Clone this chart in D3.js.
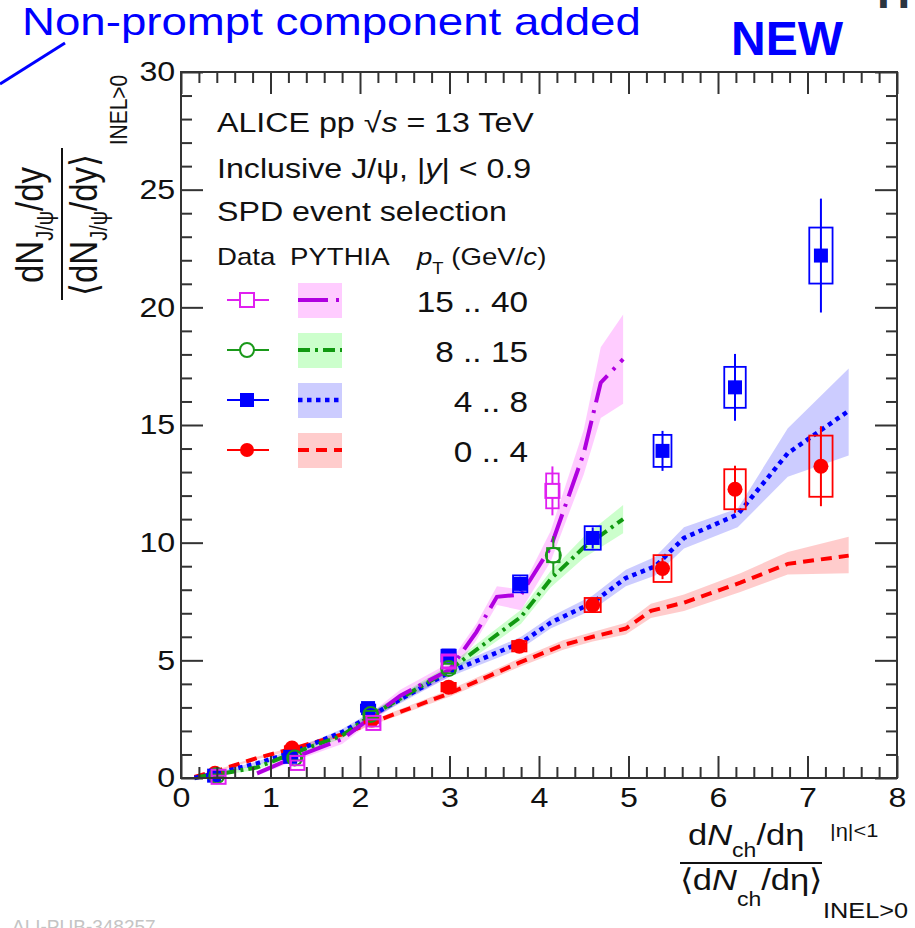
<!DOCTYPE html>
<html>
<head>
<meta charset="utf-8">
<script src="https://cdn.jsdelivr.net/npm/d3@7"></script>
<style>
  body { margin: 0; background: #fff; }
  svg { display: block; }
  text { font-family: "Liberation Sans", Arial, Helvetica, sans-serif; }
</style>
</head>
<body>
<div id="chart"></div>
<script>
// ---- measured data (x, y, stat error, syst error, half width of syst box) ----
const redX    = [0.38, 1.24, 2.13, 2.99, 3.78, 4.60, 5.38, 6.19, 7.15];
const redY    = [0.20, 1.27, 2.46, 3.86, 5.60, 7.35, 8.90, 12.27, 13.25];
const redStat = [0.05, 0.10, 0.15, 0.20, 0.20, 0.30, 0.45, 1.00, 1.70];
const redSys  = [0.05, 0.08, 0.12, 0.18, 0.22, 0.30, 0.57, 0.85, 1.30];
const redBoxW = [0.08, 0.08, 0.08, 0.08, 0.08, 0.09, 0.10, 0.12, 0.13];

const blueX    = [0.37, 1.22, 2.09, 2.99, 3.79, 4.60, 5.38, 6.19, 7.15];
const blueY    = [0.10, 0.90, 2.97, 5.20, 8.25, 10.20, 13.90, 16.60, 22.20];
const blueStat = [0.05, 0.10, 0.15, 0.25, 0.30, 0.45, 0.85, 1.42, 2.42];
const blueSys  = [0.05, 0.10, 0.15, 0.25, 0.36, 0.50, 0.68, 0.87, 1.19];
const blueBoxW = [0.08, 0.08, 0.08, 0.08, 0.08, 0.09, 0.10, 0.12, 0.13];

const greenX    = [0.40, 1.27, 2.12, 2.99, 4.16];
const greenY    = [0.10, 0.85, 2.70, 4.65, 9.47];
const greenStat = [0.05, 0.10, 0.15, 0.25, 0.80];
const greenSys  = [0.05, 0.10, 0.15, 0.20, 0.30];
const greenBoxW = [0.07, 0.07, 0.07, 0.07, 0.07];

const magX    = [0.42, 1.30, 2.15, 2.99, 4.15];
const magY    = [0.05, 0.64, 2.34, 4.95, 12.20];
const magStat = [0.05, 0.10, 0.15, 0.30, 1.04];
const magSys  = [0.05, 0.10, 0.15, 0.25, 0.74];
const magBoxW = [0.07, 0.07, 0.07, 0.07, 0.07];

// ---- PYTHIA curves (central value, band low, band high) ----
const pyRedX  = [0.15, 0.40, 0.85, 1.25, 1.80, 2.10, 3.00, 3.78, 4.27, 4.60, 4.97, 5.25, 5.62, 6.25, 6.78, 7.46];
const pyRedY  = [0.05, 0.30, 0.85, 1.25, 1.85, 2.30, 3.60, 4.90, 5.65, 6.00, 6.35, 7.10, 7.45, 8.30, 9.10, 9.45];
const pyRedLo = [0.00, 0.25, 0.80, 1.18, 1.75, 2.20, 3.45, 4.72, 5.45, 5.80, 6.10, 6.80, 7.10, 7.90, 8.65, 8.70];
const pyRedHi = [0.10, 0.35, 0.90, 1.32, 1.95, 2.40, 3.75, 5.08, 5.85, 6.20, 6.60, 7.40, 7.80, 8.70, 9.60, 10.25];

const pyBlueX  = [0.15, 0.40, 0.85, 1.25, 1.80, 2.10, 3.00, 3.80, 4.13, 4.60, 4.97, 5.30, 5.62, 6.22, 6.78, 7.46];
const pyBlueY  = [0.00, 0.20, 0.62, 1.10, 1.95, 2.60, 4.50, 5.75, 6.60, 7.45, 8.50, 9.00, 10.20, 11.20, 13.80, 15.60];
const pyBlueLo = [0.00, 0.15, 0.55, 1.00, 1.82, 2.45, 4.30, 5.50, 6.35, 7.15, 8.15, 8.60, 9.75, 10.65, 12.80, 13.70];
const pyBlueHi = [0.05, 0.25, 0.70, 1.20, 2.08, 2.75, 4.70, 6.00, 6.85, 7.75, 8.85, 9.40, 10.65, 11.45, 14.86, 17.40];

const pyGreenX  = [0.20, 0.40, 0.85, 1.25, 1.80, 2.10, 3.00, 3.80, 4.13, 4.50, 4.94];
const pyGreenY  = [0.05, 0.15, 0.45, 1.05, 1.80, 2.60, 4.60, 6.85, 8.45, 9.80, 11.00];
const pyGreenLo = [0.00, 0.10, 0.35, 0.95, 1.68, 2.45, 4.40, 6.55, 8.10, 9.35, 10.40];
const pyGreenHi = [0.10, 0.20, 0.55, 1.15, 1.92, 2.75, 4.80, 7.15, 8.80, 10.25, 11.60];

const pyMagX  = [0.85, 1.25, 1.80, 2.10, 2.45, 3.00, 3.30, 3.53, 3.80, 4.13, 4.50, 4.69, 4.94];
const pyMagY  = [0.20, 0.85, 1.65, 2.50, 3.50, 4.60, 6.20, 7.70, 7.80, 9.80, 13.80, 16.80, 17.80];
const pyMagLo = [0.10, 0.70, 1.45, 2.30, 3.25, 4.30, 5.85, 7.35, 7.13, 9.20, 12.90, 15.30, 15.90];
const pyMagHi = [0.30, 1.00, 1.85, 2.70, 3.75, 4.90, 6.55, 8.15, 8.00, 10.50, 14.80, 18.30, 19.70];

const ptLabels = ["15 .. 40", "8 .. 15", "4 .. 8", "0 .. 4"];
const xMajor = d3.range(0, 9, 1);
const yMajor = d3.range(0, 31, 5);

// ---- layout ----
const SX = 1.15;   // the ROOT picture is a bit wider than tall
const size = {width: 915, height: 928};
const margin = {top: 72, right: 18, bottom: 150, left: 181};
const W = size.width - margin.left - margin.right;
const H = size.height - margin.top - margin.bottom;

const x = d3.scaleLinear([0, 8], [0, W]);
const y = d3.scaleLinear([0, 30], [H, 0]);

const svg = d3.select("#chart").append("svg")
    .attr("width", size.width)
    .attr("height", size.height);

const g = svg.append("g")
    .attr("transform", `translate(${margin.left},${margin.top})`);

const series = [
  {px: redX, py: redY, stat: redStat, sys: redSys, bw: redBoxW,
   cx: pyRedX, cy: pyRedY, lo: pyRedLo, hi: pyRedHi,
   color: "#ff0000", line: "#ff0000", band: "#ff0000", dash: "11,7", lw: 4, shape: "circle", open: false},
  {px: blueX, py: blueY, stat: blueStat, sys: blueSys, bw: blueBoxW,
   cx: pyBlueX, cy: pyBlueY, lo: pyBlueLo, hi: pyBlueHi,
   color: "#0000ff", line: "#0000ff", band: "#0000ff", dash: "4.5,4.5", lw: 4.5, shape: "square", open: false},
  {px: greenX, py: greenY, stat: greenStat, sys: greenSys, bw: greenBoxW,
   cx: pyGreenX, cy: pyGreenY, lo: pyGreenLo, hi: pyGreenHi,
   color: "#1a991a", line: "#119911", band: "#00ff00", dash: "12,5,3,5", lw: 4, shape: "circle", open: true},
  {px: magX, py: magY, stat: magStat, sys: magSys, bw: magBoxW,
   cx: pyMagX, cy: pyMagY, lo: pyMagLo, hi: pyMagHi,
   color: "#e020f0", line: "#b000e0", band: "#ff00ff", dash: "30,8,3,8", lw: 4, shape: "square", open: true}
];

// ---- PYTHIA bands ----
const area = d3.area()
    .x(d => x(d[0]))
    .y0(d => y(d[1]))
    .y1(d => y(d[2]));
const line = d3.line()
    .x(d => x(d[0]))
    .y(d => y(d[1]));

[3, 2, 1, 0].forEach(i => {
  const s = series[i];
  g.append("path")
      .attr("d", area(s.cx.map((v, k) => [v, s.lo[k], s.hi[k]])))
      .attr("fill", s.band)
      .attr("fill-opacity", 0.2);
});
[0, 1, 2, 3].forEach(i => {
  const s = series[i];
  g.append("path")
      .attr("d", line(s.cx.map((v, k) => [v, s.cy[k]])))
      .attr("fill", "none")
      .attr("stroke", s.line)
      .attr("stroke-width", s.lw)
      .attr("stroke-dasharray", s.dash);
});

// ---- markers ----
function drawMarker(parent, cx, cy, s, half) {
  if (s.shape === "circle") {
    parent.append("circle")
        .attr("cx", cx).attr("cy", cy).attr("r", half)
        .attr("fill", s.open ? "none" : s.color)
        .attr("stroke", s.color)
        .attr("stroke-width", s.open ? 2 : 0);
  } else {
    parent.append("rect")
        .attr("x", cx - half).attr("y", cy - half)
        .attr("width", 2 * half).attr("height", 2 * half)
        .attr("fill", s.open ? "none" : s.color)
        .attr("stroke", s.color)
        .attr("stroke-width", s.open ? 2 : 0);
  }
}

function vbar(parent, xx, y1, y2, color) {
  if (y2 - y1 < 0.5) return;
  parent.append("line")
      .attr("x1", xx).attr("x2", xx).attr("y1", y1).attr("y2", y2)
      .attr("stroke", color).attr("stroke-width", 2);
}

series.forEach(s => {
  const dg = g.append("g");
  s.px.forEach((xv, k) => {
    const cx = x(xv), cy = y(s.py[k]);
    const half = 7;
    // systematic box
    dg.append("rect")
        .attr("x", x(xv - s.bw[k]))
        .attr("y", y(s.py[k] + s.sys[k]))
        .attr("width", x(xv + s.bw[k]) - x(xv - s.bw[k]))
        .attr("height", y(s.py[k] - s.sys[k]) - y(s.py[k] + s.sys[k]))
        .attr("fill", "none")
        .attr("stroke", s.color)
        .attr("stroke-width", 1.8);
    // statistical bar
    const top = y(s.py[k] + s.stat[k]), bot = y(s.py[k] - s.stat[k]);
    if (s.open) {
      vbar(dg, cx, top, cy - half, s.color);
      vbar(dg, cx, cy + half, bot, s.color);
    } else {
      vbar(dg, cx, top, bot, s.color);
    }
    drawMarker(dg, cx, cy, s, s.shape === "circle" ? 7.5 : half);
  });
});

// ---- axes (ticks on all four sides, pointing inwards) ----
const xMinor = d3.range(0, 8.001, 0.2).filter(v => Math.abs(v - Math.round(v)) > 1e-6);
const yMinor = d3.range(0, 30.001, 1).filter(v => v % 5 !== 0);

function styleAxis(sel) {
  sel.select(".domain").remove();
  sel.selectAll("line").attr("stroke", "#333").attr("stroke-width", 2);
  sel.attr("font-family", "Liberation Sans, Arial, sans-serif").attr("font-size", 28);
  sel.selectAll("text").attr("fill", "#111").attr("transform", `scale(${SX},1)`);
}

g.append("g").attr("transform", `translate(0,${H})`)
    .call(d3.axisBottom(x).tickValues(xMinor).tickSize(-11).tickFormat("")).call(styleAxis);
g.append("g").attr("transform", `translate(0,${H})`)
    .call(d3.axisBottom(x).tickValues(xMajor).tickSizeInner(-22).tickSizeOuter(0).tickPadding(9).tickFormat(d3.format("d"))).call(styleAxis);
g.append("g")
    .call(d3.axisTop(x).tickValues(xMinor).tickSize(-11).tickFormat("")).call(styleAxis);
g.append("g")
    .call(d3.axisTop(x).tickValues(xMajor).tickSize(-22).tickFormat("")).call(styleAxis);

g.append("g")
    .call(d3.axisLeft(y).tickValues(yMinor).tickSize(-11).tickFormat("")).call(styleAxis);
g.append("g")
    .call(d3.axisLeft(y).tickValues(yMajor).tickSizeInner(-22).tickSizeOuter(0).tickPadding(5).tickFormat(d3.format("d"))).call(styleAxis);
g.append("g").attr("transform", `translate(${W},0)`)
    .call(d3.axisRight(y).tickValues(yMinor).tickSize(-11).tickFormat("")).call(styleAxis);
g.append("g").attr("transform", `translate(${W},0)`)
    .call(d3.axisRight(y).tickValues(yMajor).tickSize(-22).tickFormat("")).call(styleAxis);

g.append("rect")
    .attr("width", W).attr("height", H)
    .attr("fill", "none").attr("stroke", "#333").attr("stroke-width", 2);

// ---- text helpers ----
function rich(parent, transform, fontSize, parts, anchor) {
  const t = parent.append("text")
      .attr("transform", transform)
      .attr("font-size", fontSize)
      .attr("fill", "#111")
      .attr("text-anchor", anchor || "start");
  parts.forEach(p => {
    const ts = t.append("tspan").text(p.t);
    if (p.i) ts.attr("font-style", "italic");
    if (p.dy) ts.attr("dy", p.dy);
    if (p.s) ts.attr("font-size", p.s);
  });
  return t;
}
const at = (px, py) => `translate(${px},${py}) scale(${SX},1)`;

// ---- legend ----
rich(svg, at(217, 132), 28, [{t: "ALICE pp "}, {t: "√"}, {t: "s", i: true}, {t: " = 13 TeV"}]);
rich(svg, at(217, 178), 28, [{t: "Inclusive J/ψ, |"}, {t: "y", i: true}, {t: "| < 0.9"}]);
rich(svg, at(217, 221), 28, [{t: "SPD event selection"}]);
rich(svg, at(217, 265), 24, [{t: "Data"}]);
rich(svg, at(290, 265), 24, [{t: "PYTHIA"}]);
rich(svg, at(417, 265), 24, [{t: "p", i: true}, {t: "T", s: 16, dy: 9}, {t: " (GeV/", dy: -9}, {t: "c", i: true}, {t: ")"}]);

const legendOrder = [3, 2, 1, 0];
legendOrder.forEach((si, row) => {
  const s = series[si];
  const cy = 300 + row * 50;
  const lg = svg.append("g");
  const half = 7;
  if (s.open) {
    lg.append("line").attr("x1", 227).attr("x2", 247 - half).attr("y1", cy).attr("y2", cy)
        .attr("stroke", s.color).attr("stroke-width", 2);
    lg.append("line").attr("x1", 247 + half).attr("x2", 269).attr("y1", cy).attr("y2", cy)
        .attr("stroke", s.color).attr("stroke-width", 2);
  } else {
    lg.append("line").attr("x1", 227).attr("x2", 269).attr("y1", cy).attr("y2", cy)
        .attr("stroke", s.color).attr("stroke-width", 2);
  }
  drawMarker(lg, 247, cy, s, half);
  lg.append("rect")
      .attr("x", 298).attr("y", cy - 17).attr("width", 44).attr("height", 35)
      .attr("fill", s.band).attr("fill-opacity", 0.2);
  lg.append("line")
      .attr("x1", 298).attr("x2", 342).attr("y1", cy).attr("y2", cy)
      .attr("stroke", s.line).attr("stroke-width", s.lw)
      .attr("stroke-dasharray", s.dash);
  rich(svg, at(528, cy + 12), 29, [{t: ptLabels[row]}], "end");
});

// ---- axis titles ----
// y title: rotated fraction
rich(svg, `translate(43,225) scale(${SX},1) rotate(-90)`, 33,
    [{t: "dN"}, {t: "J/ψ", s: 20, dy: 9}, {t: "/dy", dy: -9}], "middle");
rich(svg, `translate(97,225) scale(${SX},1) rotate(-90)`, 33,
    [{t: "⟨dN"}, {t: "J/ψ", s: 20, dy: 9}, {t: "/dy⟩", dy: -9}], "middle");
svg.append("line").attr("x1", 62).attr("x2", 62).attr("y1", 148).attr("y2", 300)
    .attr("stroke", "#111").attr("stroke-width", 2);
rich(svg, `translate(127,110) scale(${SX},1) rotate(-90)`, 21, [{t: "INEL>0"}], "middle");

// x title
rich(svg, at(688, 845), 30,
    [{t: "d"}, {t: "N", i: true}, {t: "ch", s: 20, dy: 12}, {t: "/d", dy: -12}, {t: "η"}]);
rich(svg, at(680, 890), 30,
    [{t: "⟨d"}, {t: "N", i: true}, {t: "ch", s: 20, dy: 16}, {t: "/d", dy: -16}, {t: "η⟩"}]);
svg.append("line").attr("x1", 680).attr("x2", 822).attr("y1", 863).attr("y2", 863)
    .attr("stroke", "#111").attr("stroke-width", 2);
rich(svg, at(830, 837), 19, [{t: "|η|<1"}]);
rich(svg, at(823, 918), 22, [{t: "INEL>0"}]);

// ---- slide annotations ----
svg.append("text")
    .attr("transform", "translate(22,35) scale(1.17,1)")
    .attr("font-size", 39).attr("fill", "#0000ff")
    .text("Non-prompt component added");
svg.append("line").attr("x1", 0).attr("y1", 84).attr("x2", 65).attr("y2", 43)
    .attr("stroke", "#0000ff").attr("stroke-width", 3);
svg.append("text")
    .attr("x", 731).attr("y", 55)
    .attr("font-size", 48).attr("font-weight", "bold").attr("fill", "#0000ff")
    .text("NEW");
svg.append("text")
    .attr("x", 877).attr("y", 8)
    .attr("font-size", 46).attr("font-weight", "bold").attr("fill", "#2b3540")
    .text("H");
svg.append("text")
    .attr("x", 12).attr("y", 933)
    .attr("font-family", "Liberation Mono, monospace")
    .attr("font-size", 19).attr("fill", "#c4c4c4")
    .text("ALI-PUB-348257");
</script>
</body>
</html>
